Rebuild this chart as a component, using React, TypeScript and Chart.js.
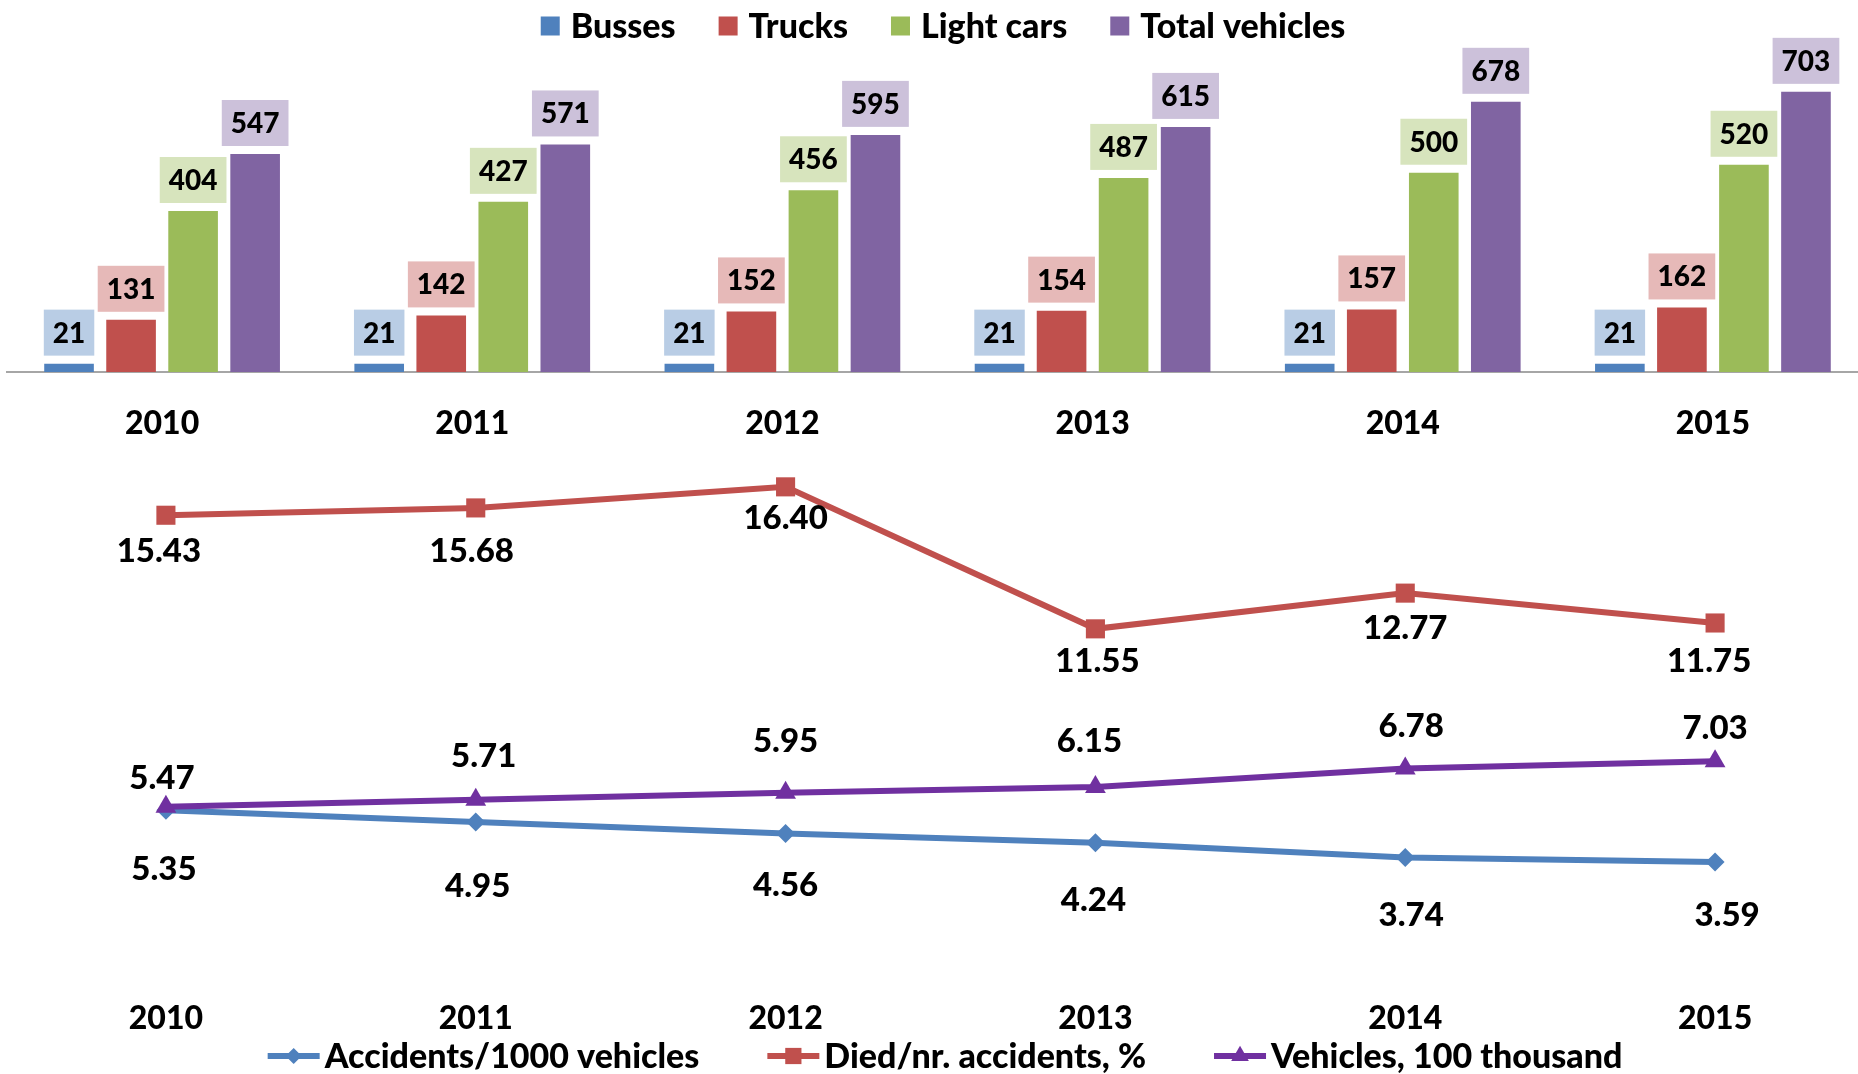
import React, { useEffect, useRef } from "react";
import { Chart, registerables } from "chart.js";

Chart.register(...registerables);

const FONT = "Lato, 'Open Sans', 'DejaVu Sans Condensed', sans-serif";
const WEIGHT = "900";

// ---- Data ----
const years = ["2010", "2011", "2012", "2013", "2014", "2015"];

const busses = [21, 21, 21, 21, 21, 21];
const trucks = [131, 142, 152, 154, 157, 162];
const lightCars = [404, 427, 456, 487, 500, 520];
const totalVehicles = [547, 571, 595, 615, 678, 703];

const accidentsPer1000 = [5.35, 4.95, 4.56, 4.24, 3.74, 3.59];
const diedPerAccidents = [15.43, 15.68, 16.4, 11.55, 12.77, 11.75];
const vehicles100k = [5.47, 5.71, 5.95, 6.15, 6.78, 7.03];

// ---- Styles ----
const barColors = ["#4F81BD", "#C0504D", "#9BBB59", "#8064A2"];
const barLabelFills = ["#B9CDE5", "#E6B9B8", "#D7E4BD", "#CCC1DA"];
const lineColors = ["#4F81BD", "#C0504D", "#7030A0"];

// label placement (pixel offsets from each point)
const accidentsLabelDx = [-2, 2, 0, -2, 6, 12];
const accidentsLabelDy = [59, 64, 52, 57, 58, 53];
const diedLabelDx = [-7, -4, 0, 2, 0, -6];
const diedLabelDy = [36, 43, 32, 33, 35, 38];
const vehiclesLabelDx = [-4, 8, 0, -6, 6, 0];
const vehiclesLabelDy = [-28, -43, -51, -46, -42, -33];

const CANVAS_W = 1870;
const TOP_H = 440;
const BOTTOM_H = 634;

const barLabelPlugin = {
  id: "barLabels",
  afterDatasetsDraw(chart: any, _a: any, opts: any) {
    const ctx = chart.ctx;
    ctx.save();
    ctx.font = `${WEIGHT} ${opts.fontSize}px ${FONT}`;
    ctx.textAlign = "center";
    ctx.textBaseline = "middle";
    chart.data.datasets.forEach((ds: any, i: number) => {
      const meta = chart.getDatasetMeta(i);
      meta.data.forEach((bar: any, j: number) => {
        const text = String(ds.data[j]);
        const w = ctx.measureText(text).width + opts.padX * 2;
        const h = opts.boxH;
        const bottom = bar.y - opts.gap;
        ctx.fillStyle = opts.fills[i];
        ctx.fillRect(bar.x - w / 2, bottom - h, w, h);
        ctx.fillStyle = "#000";
        ctx.fillText(text, bar.x, bottom - h / 2 + 1);
      });
    });
    ctx.restore();
  },
};

const topLegendPlugin = {
  id: "topLegend",
  afterDraw(chart: any, _a: any, opts: any) {
    const ctx = chart.ctx;
    ctx.save();
    ctx.font = `${WEIGHT} ${opts.fontSize}px ${FONT}`;
    const items = chart.data.datasets.map((ds: any) => ({ text: ds.label, color: ds.backgroundColor }));
    const widths = items.map((it: any) => opts.box + opts.boxGap + ctx.measureText(it.text).width);
    const total = widths.reduce((a: number, b: number) => a + b, 0) + opts.itemGap * (items.length - 1);
    let x = opts.centerX - total / 2;
    items.forEach((it: any, i: number) => {
      ctx.fillStyle = it.color;
      ctx.fillRect(x, opts.y - opts.box / 2, opts.box, opts.box);
      ctx.fillStyle = "#000";
      ctx.textAlign = "left";
      ctx.textBaseline = "middle";
      ctx.fillText(it.text, x + opts.box + opts.boxGap, opts.y + 1);
      x += widths[i] + opts.itemGap;
    });
    ctx.restore();
  },
};

function drawMarker(ctx: CanvasRenderingContext2D, style: string, x: number, y: number, r: number, color: string) {
  ctx.fillStyle = color;
  ctx.beginPath();
  if (style === "rect") {
    const s = r * Math.SQRT1_2;
    ctx.rect(x - s, y - s, 2 * s, 2 * s);
  } else if (style === "rectRot") {
    ctx.moveTo(x, y - r);
    ctx.lineTo(x + r, y);
    ctx.lineTo(x, y + r);
    ctx.lineTo(x - r, y);
    ctx.closePath();
  } else {
    const h = r * 0.866;
    ctx.moveTo(x, y - r);
    ctx.lineTo(x + h, y + r / 2);
    ctx.lineTo(x - h, y + r / 2);
    ctx.closePath();
  }
  ctx.fill();
}

const lineLegendPlugin = {
  id: "lineLegend",
  afterDraw(chart: any, _a: any, opts: any) {
    const ctx = chart.ctx;
    ctx.save();
    ctx.font = `${WEIGHT} ${opts.fontSize}px ${FONT}`;
    const items = chart.data.datasets.map((ds: any) => ({
      text: ds.label,
      color: ds.borderColor,
      style: ds.pointStyle,
      r: ds.pointRadius,
    }));
    const widths = items.map((it: any) => opts.lineLen + opts.textGap + ctx.measureText(it.text).width);
    const total = widths.reduce((a: number, b: number) => a + b, 0) + opts.itemGap * (items.length - 1);
    let x = opts.centerX - total / 2;
    items.forEach((it: any, i: number) => {
      ctx.strokeStyle = it.color;
      ctx.lineWidth = 6;
      ctx.beginPath();
      ctx.moveTo(x, opts.y);
      ctx.lineTo(x + opts.lineLen, opts.y);
      ctx.stroke();
      drawMarker(ctx, it.style, x + opts.lineLen / 2, opts.y, it.r * 0.85, it.color);
      ctx.fillStyle = "#000";
      ctx.textAlign = "left";
      ctx.textBaseline = "middle";
      ctx.fillText(it.text, x + opts.lineLen + opts.textGap, opts.y + 1);
      x += widths[i] + opts.itemGap;
    });
    ctx.restore();
  },
};

const lineLabelPlugin = {
  id: "lineLabels",
  afterDatasetsDraw(chart: any, _a: any, opts: any) {
    const ctx = chart.ctx;
    ctx.save();
    ctx.font = `${WEIGHT} ${opts.fontSize}px ${FONT}`;
    ctx.textAlign = "center";
    ctx.textBaseline = "middle";
    ctx.fillStyle = "#000";
    chart.data.datasets.forEach((ds: any, i: number) => {
      const meta = chart.getDatasetMeta(i);
      const off = opts.offsets[i];
      meta.data.forEach((pt: any, j: number) => {
        ctx.fillText(Number(ds.data[j]).toFixed(2), pt.x + off.dx[j], pt.y + off.dy[j]);
      });
    });
    ctx.restore();
  },
};

export default function App() {
  const topRef = useRef<HTMLCanvasElement>(null);
  const bottomRef = useRef<HTMLCanvasElement>(null);

  useEffect(() => {
    const tickFont = { family: FONT, size: 32, weight: WEIGHT as any };
    const barSeries = [
      { label: "Busses", data: busses },
      { label: "Trucks", data: trucks },
      { label: "Light cars", data: lightCars },
      { label: "Total vehicles", data: totalVehicles },
    ];
    const top = new Chart(topRef.current as HTMLCanvasElement, {
      type: "bar",
      data: {
        labels: years,
        datasets: barSeries.map((s, i) => ({
          label: s.label,
          data: s.data,
          backgroundColor: barColors[i],
          borderWidth: 0,
          categoryPercentage: 0.8,
          barPercentage: 0.8,
        })),
      },
      options: {
        animation: false,
        responsive: false,
        maintainAspectRatio: false,
        layout: { autoPadding: false, padding: { left: 7, right: 2, top: 50, bottom: 0 } },
        plugins: {
          legend: { display: false },
          tooltip: { enabled: false },
          barLabels: { fontSize: 28, padX: 9, boxH: 46, gap: 8, fills: barLabelFills },
          topLegend: { fontSize: 34, box: 19, boxGap: 11, itemGap: 43, centerX: 943, y: 26 },
        } as any,
        scales: {
          x: {
            grid: { display: false, drawTicks: false },
            border: { display: true, color: "#A6A6A6", width: 2 },
            ticks: { color: "#000", font: tickFont, padding: 32 },
            afterFit: (scale: any) => {
              scale.height = 68;
            },
          },
          y: { display: false, min: 0, max: 808 },
        },
      },
      plugins: [barLabelPlugin, topLegendPlugin],
    });

    const lineSeries = [
      { label: "Accidents/1000 vehicles", data: accidentsPer1000, style: "rectRot", r: 9.5, order: 2, dx: accidentsLabelDx, dy: accidentsLabelDy },
      { label: "Died/nr. accidents, %", data: diedPerAccidents, style: "rect", r: 13.5, order: 1, dx: diedLabelDx, dy: diedLabelDy },
      { label: "Vehicles, 100 thousand", data: vehicles100k, style: "triangle", r: 12, order: 0, dx: vehiclesLabelDx, dy: vehiclesLabelDy },
    ];
    const bottom = new Chart(bottomRef.current as HTMLCanvasElement, {
      type: "line",
      data: {
        labels: years,
        datasets: lineSeries.map((s, i) => ({
          label: s.label,
          data: s.data,
          borderColor: lineColors[i],
          backgroundColor: lineColors[i],
          pointBackgroundColor: lineColors[i],
          pointBorderColor: lineColors[i],
          pointBorderWidth: 0,
          borderWidth: 6,
          pointStyle: s.style,
          pointRadius: s.r,
          order: s.order,
          tension: 0,
          fill: false,
        })),
      },
      options: {
        animation: false,
        responsive: false,
        maintainAspectRatio: false,
        layout: { autoPadding: false, padding: { left: 11, right: 0, top: 0, bottom: 37 } },
        plugins: {
          legend: { display: false },
          tooltip: { enabled: false },
          lineLabels: {
            fontSize: 33,
            offsets: lineSeries.map((s) => ({ dx: s.dx, dy: s.dy })),
          },
          lineLegend: { fontSize: 34, lineLen: 52, textGap: 5, itemGap: 68, centerX: 945, y: 616 },
        } as any,
        scales: {
          x: {
            offset: true,
            grid: { display: false, drawTicks: false },
            border: { display: false },
            ticks: { color: "#000", font: tickFont, padding: 32 },
            afterFit: (scale: any) => {
              scale.height = 70;
            },
          },
          y: { display: false, min: 0, max: 18 },
        },
      },
      plugins: [lineLabelPlugin, lineLegendPlugin],
    });

    return () => {
      top.destroy();
      bottom.destroy();
    };
  }, []);

  return (
    <div
      style={{
        position: "fixed",
        left: 0,
        top: 0,
        width: 1858,
        height: 1074,
        overflow: "hidden",
        background: "#fff",
      }}
    >
      <canvas
        ref={topRef}
        width={CANVAS_W}
        height={TOP_H}
        style={{ display: "block", width: CANVAS_W, height: TOP_H }}
      />
      <canvas
        ref={bottomRef}
        width={CANVAS_W}
        height={BOTTOM_H}
        style={{ display: "block", width: CANVAS_W, height: BOTTOM_H }}
      />
    </div>
  );
}
